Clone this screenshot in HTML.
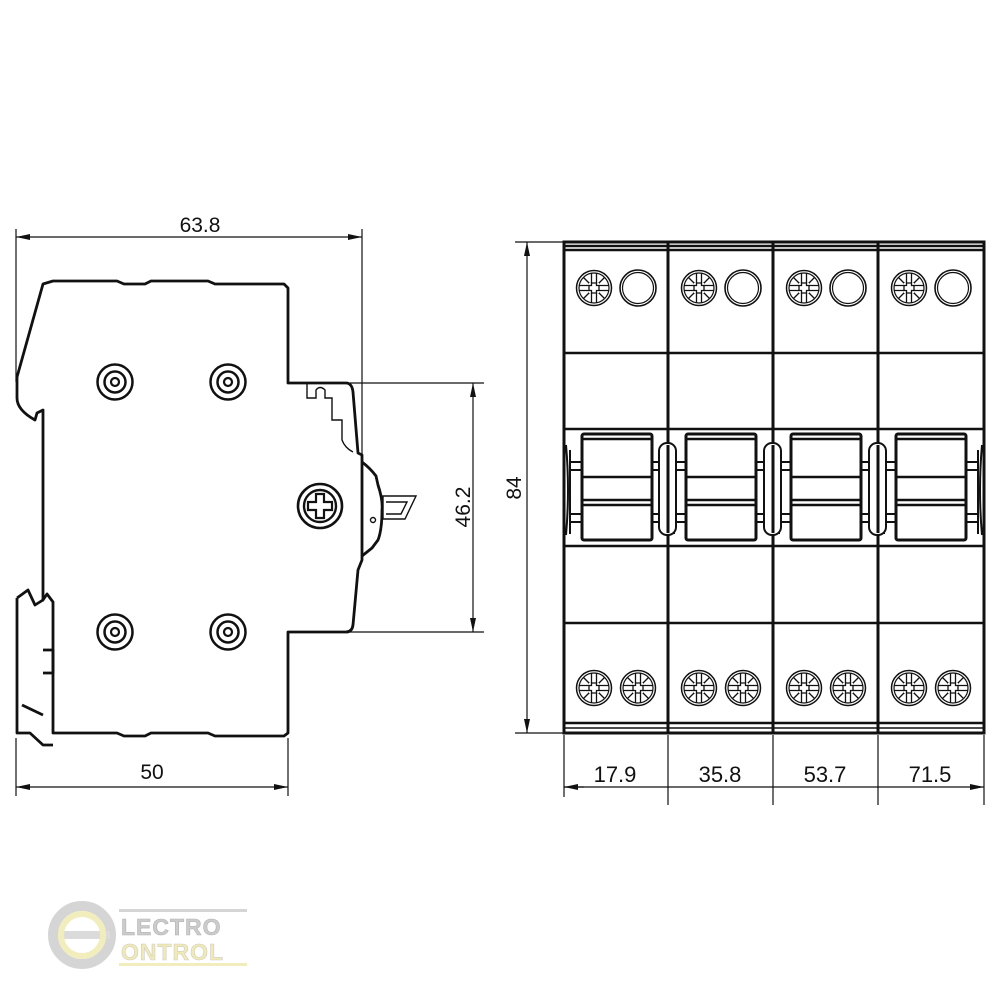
<!DOCTYPE html>
<html><head><meta charset="utf-8"><style>
html,body{margin:0;padding:0;background:#fff;width:1000px;height:1000px;overflow:hidden}
svg{display:block}
text{font-family:"Liberation Sans","DejaVu Sans",sans-serif;fill:#111}
</style></head><body>
<svg width="1000" height="1000" viewBox="0 0 1000 1000" xmlns="http://www.w3.org/2000/svg">
<defs>
<g id="scr" fill="none" stroke="#111">
<circle r="17.5" stroke-width="1.5"/><circle r="15" stroke-width="1.2"/>
<path d="M-15 -2.5H15M-15 2.5H15M-2.5 -15V15M2.5 -15V15" stroke-width="1.3"/>
<path d="M-10.5 -10.5L10.5 10.5M10.5 -10.5L-10.5 10.5" stroke-width="1.3"/>
<rect x="-5" y="-5" width="10" height="10" fill="#fff" stroke="none"/>
<path d="M-2.5 -5V-2.5H-5V2.5H-2.5V5H2.5V2.5H5V-2.5H2.5V-5Z" stroke-width="1.3"/>
</g>
<g id="ring" fill="none" stroke="#111"><circle r="18" stroke-width="1.6"/><circle r="15.5" stroke-width="1.2"/></g>
<g id="sv" fill="none" stroke="#111"><circle r="17.5" stroke-width="2.5"/><circle r="10.5" stroke-width="2.5"/><circle r="4" stroke-width="2.2"/></g>
<g id="sw" fill="none" stroke="#111">
<rect x="18" y="192" width="70" height="106" rx="2" stroke-width="3"/>
<path d="M18 197H88M18 235H88M18 258H88M18 263H88" stroke-width="2.5"/>
<path d="M6 208V292M18 208V292M6 220H18M6 228H18M6 272H18M6 280H18" stroke-width="2"/>
<path d="M88 208V292M100 208V292M88 220H100M88 228H100M88 272H100M88 280H100" stroke-width="2"/>
</g>
<marker id="ar" viewBox="0 0 14 6" refX="14" refY="3" markerWidth="14" markerHeight="6" orient="auto-start-reverse" markerUnits="userSpaceOnUse"><path d="M0 0L14 3L0 6Z" fill="#111"/></marker>
</defs>

<g stroke="#111" stroke-width="1.2" fill="none">
<path d="M16 229V382M362 229V455"/>
<path d="M16 237H362" marker-start="url(#ar)" marker-end="url(#ar)"/>
<path d="M350 383H484M350 632H484"/>
<path d="M473 383V632" marker-start="url(#ar)" marker-end="url(#ar)"/>
<path d="M16 738V796M288 738V796"/>
<path d="M16 787H288" marker-start="url(#ar)" marker-end="url(#ar)"/>
</g>
<text x="200" y="232" font-size="21" text-anchor="middle">63.8</text>
<text x="152" y="779" font-size="21" text-anchor="middle">50</text>
<text transform="translate(470,507) rotate(-90)" font-size="21" text-anchor="middle">46.2</text>

<g stroke="#111" stroke-width="2.8" fill="none" stroke-linejoin="round">
<path d="M43 284L53 281H117L124 284H145L151 281H208L215 284H284L288 288V383H346Q352 383 353 392L358 453L362 455V560L358 570L353 625Q352 632 346 632H288V733L284 736H215L208 733H151L145 736H124L117 733H53V602L47 594L43 600V410L37 413L35 420Q17 410 17 398V377Z"/>
<path d="M17 598V733L30 733L43 745H53M17 598L28 590L35 605L43 600"/>
<path d="M22 705L43 715M43 650H53V673H43"/>
<path d="M362 462Q370 468 376 476L378 485Q383 500 382 510Q382 530 378 540L372 548L362 556"/>
</g>
<g stroke="#111" stroke-width="1.4" fill="none">
<path d="M307 383V398H316V390Q320 385 325 390V398H332V420H342V440Q345 448 353 452"/>
<path d="M383 496H416L405 519H383Z"/>
<path d="M386 502H407L401 514H386"/>
<circle cx="373" cy="520" r="2.5"/>
</g>
<use href="#sv" x="115" y="382"/><use href="#sv" x="228" y="382"/>
<use href="#sv" x="115" y="632"/><use href="#sv" x="228" y="632"/>
<g fill="none" stroke="#111">
<circle cx="320" cy="506" r="22" stroke-width="2.6"/><circle cx="320" cy="506" r="16" stroke-width="2.4"/>
<path d="M308 502H316V494H324V502H332V510H324V518H316V510H308Z" stroke-width="2.2"/>
</g>

<g stroke="#111" stroke-width="1.2" fill="none">
<path d="M515 242H564M515 733H564"/>
<path d="M527 242V733" marker-start="url(#ar)" marker-end="url(#ar)"/>
<path d="M564 735V797M668 735V805M773 735V805M878 735V805M984 735V805"/>
<path d="M564 787H668M668 787H773M773 787H878M878 787H984" marker-end="url(#ar)"/>
<path d="M564 787H584" marker-start="url(#ar)"/>
</g>
<text transform="translate(521,488) rotate(-90)" font-size="21" text-anchor="middle">84</text>
<text x="615" y="782" font-size="22" text-anchor="middle">17.9</text>
<text x="720" y="782" font-size="22" text-anchor="middle">35.8</text>
<text x="825" y="782" font-size="22" text-anchor="middle">53.7</text>
<text x="930" y="782" font-size="22" text-anchor="middle">71.5</text>

<g stroke="#111" fill="none">
<rect x="564" y="242" width="420" height="491" stroke-width="3"/>
<path d="M668 242V733M773 242V733M878 242V733" stroke-width="3"/>
<path d="M564 246H984M564 250H984M564 353H984M564 429H984M564 546H984M564 623H984M564 723H984" stroke-width="2.5"/>
<path d="M564 728H984" stroke-width="1.5"/>
</g>
<use href="#sw" x="564" y="242"/><use href="#sw" x="668" y="242"/><use href="#sw" x="773" y="242"/><use href="#sw" x="878" y="242"/>
<g fill="#fff" stroke="#111" stroke-width="2">
<rect x="659" y="443" width="17" height="92" rx="8"/>
<rect x="764" y="443" width="17" height="92" rx="8"/>
<rect x="869" y="443" width="17" height="92" rx="8"/>
</g>
<path d="M668 445V533M773 445V533M878 445V533" stroke="#111" stroke-width="3"/>
<path d="M566 445Q570 490 566 535M982 445Q978 490 982 535" stroke="#111" stroke-width="2" fill="none"/>

<use href="#scr" x="594" y="288"/><use href="#ring" x="638" y="288"/>
<use href="#scr" x="699" y="288"/><use href="#ring" x="743" y="288"/>
<use href="#scr" x="804" y="288"/><use href="#ring" x="848" y="288"/>
<use href="#scr" x="909" y="288"/><use href="#ring" x="953" y="288"/>
<use href="#scr" x="594" y="688"/><use href="#scr" x="638" y="688"/>
<use href="#scr" x="699" y="688"/><use href="#scr" x="743" y="688"/>
<use href="#scr" x="804" y="688"/><use href="#scr" x="848" y="688"/>
<use href="#scr" x="909" y="688"/><use href="#scr" x="953" y="688"/>

<g opacity="0.75">
<circle cx="82" cy="935" r="29" fill="none" stroke="#c8c8c8" stroke-width="10"/>
<path d="M58 935H110" stroke="#d0d0d0" stroke-width="8"/>
<circle cx="82" cy="935" r="21" fill="none" stroke="#eee8a8" stroke-width="6"/>
<rect x="119" y="909" width="128" height="3" fill="#c8c8c8"/>
<rect x="119" y="963" width="128" height="3" fill="#eee8a8"/>
<text x="121" y="935" font-size="23" font-weight="bold" font-family="Liberation Serif" style="fill:#bbb;stroke:#999;stroke-width:0.6;letter-spacing:1px">LECTRO</text>
<text x="121" y="960" font-size="23" font-weight="bold" font-family="Liberation Serif" style="fill:#eee39a;stroke:#bbb;stroke-width:0.6;letter-spacing:1px">ONTROL</text>
</g>
</svg>
</body></html>
